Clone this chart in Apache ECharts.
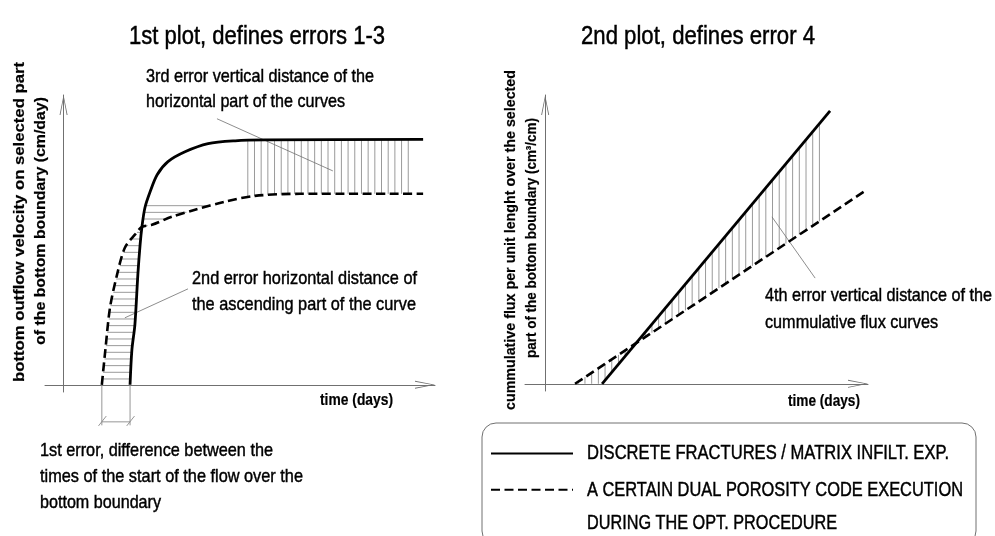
<!DOCTYPE html>
<html><head><meta charset="utf-8">
<script src="https://cdn.jsdelivr.net/npm/echarts@6/dist/echarts.min.js"></script>
<style>html,body{margin:0;padding:0;background:#fff}#c{width:995px;height:536px}</style>
</head><body><div id="c"></div>
<script>
// ---------- Plot 1: outflow velocity vs time (schematic units) ----------
const p1SolidX = [17.9, 18.4, 19.2, 20.0, 20.6, 21.1, 21.9, 23.3, 25.2, 28.1, 32.7, 38.9, 46.2, 54.2, 96.8];
const p1SolidY = [0, 12.1, 20.7, 38.0, 48.3, 54.5, 61.1, 66.6, 72.5, 77.0, 80.4, 83.2, 84.2, 84.5, 84.7];
const p1DashX  = [10.3, 11.2, 12.5, 14.4, 16.5, 19.2, 21.1, 23.8, 29.2, 35.4, 43.5, 51.5, 63.7, 96.8];
const p1DashY  = [0, 11.4, 26.6, 38.0, 47.3, 51.8, 54.5, 55.2, 58.0, 60.4, 63.2, 65.2, 65.9, 65.9];
// ---------- Plot 2: cumulative flux vs time ----------
const p2SolidX = [14.1, 70.6];
const p2SolidY = [0, 94.5];
const p2DashX  = [7.4, 79.3];
const p2DashY  = [0, 66.8];
// ---------- hatching extents ----------
const p1HHatch = {start: 2.0, step: 2.3, end: 62.5};
const p1VHatch = {start: 49.6, step: 1.8, end: 93.1};
const p2VHatch = {start: 8.2, step: 1.66, end: 68.2};
// ---------- leader lines [x1,y1,x2,y2] ----------
const p1Leaders = [[41.3, 91.8, 72.5, 73.8], [33.5, 33.1, 16.5, 23.1]];
const p2Leaders = [[56.2, 57.8, 66.9, 36.6]];
// ---------- texts ----------
const NAME_SOLID = 'DISCRETE FRACTURES / MATRIX INFILT. EXP.';
const NAME_DASH = 'A CERTAIN DUAL POROSITY CODE EXECUTION';
const NAME_DASH2 = 'DURING THE OPT. PROCEDURE';
const title1 = '1st plot, defines errors 1-3';
const title2 = '2nd plot, defines error 4';
const yLabel1 = ['bottom outflow velocity on selected part', 'of the bottom boundary (cm/day)'];
const yLabel2 = ['cummulative flux per unit lenght over the selected', 'part of the bottom boundary (cm³/cm)'];
const note3 = ['3rd error vertical distance of the', 'horizontal part of the curves'];
const note2 = ['2nd error horizontal distance of', 'the ascending part of the curve'];
const note1 = ['1st error, difference between the', 'times of the start of the flow over the', 'bottom boundary'];
const note4 = ['4th error vertical distance of the', 'cummulative flux curves'];
const xLabel = 'time (days)';

const FAMILY = '"Liberation Sans", Arial, sans-serif';

function interp(xs, ys, x) {
  if (x <= xs[0]) return ys[0];
  for (let i = 1; i < xs.length; i++) {
    if (x <= xs[i]) {
      const t = (x - xs[i-1]) / ((xs[i] - xs[i-1]) || 1);
      return ys[i-1] + t * (ys[i] - ys[i-1]);
    }
  }
  return ys[ys.length - 1];
}
const zip = (a, b) => a.map((v, i) => [v, b[i]]);

// hatch segments built from the curve arrays
const p1Hatch = [];
for (let y = p1HHatch.start; y <= p1HHatch.end; y += p1HHatch.step) {
  p1Hatch.push([interp(p1DashY, p1DashX, y), y, interp(p1SolidY, p1SolidX, y), y]);
}
for (let x = p1VHatch.start; x <= p1VHatch.end; x += p1VHatch.step) {
  p1Hatch.push([x, interp(p1DashX, p1DashY, x), x, interp(p1SolidX, p1SolidY, x)]);
}
const p2Hatch = [];
for (let x = p2VHatch.start; x <= p2VHatch.end; x += p2VHatch.step) {
  p2Hatch.push([x, interp(p2DashX, p2DashY, x), x, Math.max(0, interp(p2SolidX, p2SolidY, x))]);
}
// dimension for 1st error (start times of both curves)
const t0d = p1DashX[0], t0s = p1SolidX[0];
const p1Dim = [
  [t0d, 0, t0d, -14], [t0s, 0, t0s, -14], [t0d, -12.8, t0s, -12.8],
  [t0d - 0.9, -14.2, t0d + 1.2, -10.8], [t0s - 0.9, -14.2, t0s + 1.2, -10.8]
];

function segRender(color, width) {
  return function (params, api) {
    const a = api.coord([api.value(0), api.value(1)]);
    const b = api.coord([api.value(2), api.value(3)]);
    return {type: 'line', shape: {x1: a[0], y1: a[1], x2: b[0], y2: b[1]},
            style: {stroke: color, lineWidth: width}};
  };
}
function segSeries(gi, data, color, width) {
  return {type: 'custom', xAxisIndex: gi, yAxisIndex: gi, data: data, clip: false, silent: true,
          encode: {x: [0, 2], y: [1, 3]}, renderItem: segRender(color, width), z: 1};
}

const AX = '#707070';
const arrowPath = 'path://M0,20L4,0L8,20L7.1,20L4,3.4L0.9,20Z';
function axis(gi, min, max) {
  return {type: 'value', gridIndex: gi, min: min, max: max,
    axisLine: {show: true, onZero: true, lineStyle: {color: AX, width: 1},
      symbol: ['none', arrowPath], symbolSize: [8, 20], symbolOffset: [0, -10]},
    axisTick: {show: false}, axisLabel: {show: false}, splitLine: {show: false}};
}
const SOLID = {color: '#000', width: 2.8, type: 'solid'};
const DASH = {color: '#000', width: 2.6, type: [9, 4.5]};
function curve(gi, name, data, ls, smooth) {
  return {type: 'line', name: name, xAxisIndex: gi, yAxisIndex: gi, data: data, symbol: 'none',
          showSymbol: false, smooth: smooth, lineStyle: ls, itemStyle: {color: '#000'}, z: 3, silent: true};
}

// condensed (Arial-Narrow-like) text: Liberation Sans squeezed horizontally to the reference width
const mctx = document.createElement('canvas').getContext('2d');
function txt(x, y, text, size, width, opt) {
  opt = opt || {};
  const font = (opt.bold ? 'bold ' : '') + size + 'px ' + FAMILY;
  mctx.font = font;
  const sx = width / mctx.measureText(text).width;
  return {type: 'text', x: x, y: y, silent: true, scaleX: sx, rotation: opt.rot || 0,
    style: {text: text, font: font, fill: '#000', stroke: '#000', lineWidth: opt.bold ? 0.2 : 0.45,
            textAlign: opt.align || 'left', textVerticalAlign: 'middle'}};
}
const R = Math.PI / 2;
const graphics = [
  txt(257, 37, title1, 25, 256, {align: 'center'}),
  txt(698, 37, title2, 25, 234, {align: 'center'}),
  txt(146, 77, note3[0], 19, 228), txt(146, 102, note3[1], 19, 199),
  txt(192, 279, note2[0], 19, 225), txt(192, 305, note2[1], 19, 224),
  txt(40, 451, note1[0], 19, 233), txt(40, 477, note1[1], 19, 263), txt(40, 503, note1[2], 19, 121),
  txt(765, 296, note4[0], 19, 227), txt(765, 323, note4[1], 19, 173),
  txt(320, 401, xLabel, 16, 73, {bold: true}),
  txt(788, 402, xLabel, 16, 72, {bold: true}),
  txt(20, 222, yLabel1[0], 15, 320, {bold: true, align: 'center', rot: R}),
  txt(41, 221, yLabel1[1], 15, 248, {bold: true, align: 'center', rot: R}),
  txt(511, 240, yLabel2[0], 15, 340, {bold: true, align: 'center', rot: R}),
  txt(532, 238, yLabel2[1], 15, 240, {bold: true, align: 'center', rot: R}),
  {type: 'rect', silent: true, shape: {x: 482, y: 423, width: 494, height: 122, r: 14},
   style: {fill: 'none', stroke: AX, lineWidth: 1}},
  txt(587, 453, NAME_SOLID, 21, 362),
  txt(587, 490, NAME_DASH, 21, 376),
  txt(587, 523, NAME_DASH2, 21, 250)
];

const chart = echarts.init(document.getElementById('c'), null, {renderer: 'canvas'});
chart.setOption({
  animation: false,
  backgroundColor: '#fff',
  grid: [
    {left: 45, top: 95, width: 390, height: 297},
    {left: 525, top: 95, width: 343, height: 296}
  ],
  xAxis: [axis(0, -5, 100), axis(1, -5, 80)],
  yAxis: [axis(0, -2.5, 100), axis(1, -2.5, 100)],
  legend: {
    orient: 'vertical', left: 490, top: 444, padding: 0, itemGap: 17,
    itemWidth: 82, itemHeight: 24, selectedMode: false,
    itemStyle: {opacity: 0},
    formatter: function () { return ''; },
    textStyle: {fontSize: 1, lineHeight: 24},
    data: [NAME_SOLID, NAME_DASH]
  },
  graphic: graphics,
  series: [
    segSeries(0, p1Hatch, '#9a9a9a', 1),
    segSeries(0, p1Leaders, '#707070', 0.8),
    segSeries(0, p1Dim, '#8a8a8a', 0.9),
    curve(0, NAME_SOLID, zip(p1SolidX, p1SolidY), SOLID, 0.3),
    curve(0, NAME_DASH, zip(p1DashX, p1DashY), DASH, 0.3),
    segSeries(1, p2Hatch, '#9a9a9a', 1),
    segSeries(1, p2Leaders, '#707070', 0.8),
    curve(1, NAME_SOLID, zip(p2SolidX, p2SolidY), SOLID, false),
    curve(1, NAME_DASH, zip(p2DashX, p2DashY), DASH, false)
  ]
});
</script></body></html>
